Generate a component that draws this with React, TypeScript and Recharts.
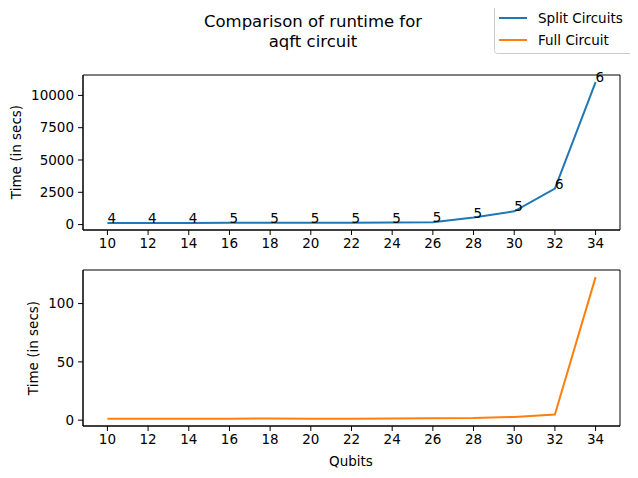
import { LineChart, Line, XAxis, YAxis, LabelList, ReferenceArea } from "recharts";

const qubits = [10, 12, 14, 16, 18, 20, 22, 24, 26, 28, 30, 32, 34];
const splitTimes = [130, 130, 130, 135, 135, 140, 150, 160, 180, 540, 1030, 2790, 11030];
const fullTimes = [1.2, 1.2, 1.3, 1.3, 1.4, 1.3, 1.3, 1.4, 1.6, 1.8, 2.8, 4.9, 122.7];
const cutLabels = [4, 4, 4, 5, 5, 5, 5, 5, 5, 5, 5, 6, 6];

const xTicks = [10, 12, 14, 16, 18, 20, 22, 24, 26, 28, 30, 32, 34];
const topYTicks = [0, 2500, 5000, 7500, 10000];
const bottomYTicks = [0, 50, 100];

const seriesNames = ["Split Circuits", "Full Circuit"];
const seriesColors = ["#1f77b4", "#ff7f0e"];

const rows = qubits.map((q, i) => ({
  q,
  split: splitTimes[i],
  full: fullTimes[i],
  cut: cutLabels[i],
}));

const FONT = "DejaVu Sans, sans-serif";
const tick = { fill: "#000", fontSize: 13.5, fontFamily: FONT };
const xDomain: [number, number] = [8.8, 35.2];
const topDomain: [number, number] = [-420, 11580];
const bottomDomain: [number, number] = [-5, 128.8];

// annotate(): text starts at the point, baseline on the point
const CutLabel = (props: any) => (
  <text
    x={props.x}
    y={props.y}
    textAnchor="start"
    fill="#000"
    fontSize={13.5}
    fontFamily={FONT}
  >
    {props.value}
  </text>
);

export default function App() {
  return (
    <div style={{ position: "relative", width: 638, height: 478, fontFamily: FONT, background: "#fff", margin: -8 }}>
      <div style={{ position: "absolute", left: 0, top: 0 }}>
        <LineChart width={638} height={260} data={rows} margin={{ top: 75, right: 18, left: 23, bottom: 5 }}>
          <XAxis dataKey="q" type="number" domain={xDomain} ticks={xTicks} height={25} tick={tick} tickSize={5} tickMargin={3} tickLine={{ stroke: "#000" }} axisLine={{ stroke: "#000" }} interval={0} allowDataOverflow />
          <YAxis type="number" domain={topDomain} ticks={topYTicks} width={60} tick={tick} tickSize={5} tickMargin={4} tickLine={{ stroke: "#000" }} axisLine={{ stroke: "#000" }} interval={0} allowDataOverflow />
          <ReferenceArea x1={xDomain[0]} x2={xDomain[1]} y1={topDomain[0]} y2={topDomain[1]} fill="none" fillOpacity={0} stroke="#000" strokeOpacity={1} ifOverflow="visible" />
          <Line dataKey="split" stroke={seriesColors[0]} strokeWidth={2} dot={false} isAnimationActive={false}>
            <LabelList dataKey="cut" content={CutLabel} />
          </Line>
        </LineChart>
      </div>
      <div style={{ position: "absolute", left: 0, top: 0 }}>
        <LineChart width={638} height={478} data={rows} margin={{ top: 270, right: 18, left: 23, bottom: 22 }}>
          <XAxis dataKey="q" type="number" domain={xDomain} ticks={xTicks} height={30} tick={tick} tickSize={5} tickMargin={3} tickLine={{ stroke: "#000" }} axisLine={{ stroke: "#000" }} interval={0} allowDataOverflow />
          <YAxis type="number" domain={bottomDomain} ticks={bottomYTicks} width={60} tick={tick} tickSize={5} tickMargin={4} tickLine={{ stroke: "#000" }} axisLine={{ stroke: "#000" }} interval={0} allowDataOverflow />
          <ReferenceArea x1={xDomain[0]} x2={xDomain[1]} y1={bottomDomain[0]} y2={bottomDomain[1]} fill="none" fillOpacity={0} stroke="#000" strokeOpacity={1} ifOverflow="visible" />
          <Line dataKey="full" stroke={seriesColors[1]} strokeWidth={2} dot={false} isAnimationActive={false} />
        </LineChart>
      </div>

      <svg width={638} height={478} style={{ position: "absolute", left: 0, top: 0, pointerEvents: "none" }}>
        <text x={313} y={27} textAnchor="middle" fontSize={16.5} fontFamily={FONT}>Comparison of runtime for</text>
        <text x={313} y={47} textAnchor="middle" fontSize={16.5} fontFamily={FONT}>aqft circuit</text>
        <text x={21} y={152} textAnchor="middle" fontSize={13.5} fontFamily={FONT} transform="rotate(-90 21 152)">Time (in secs)</text>
        <text x={38} y={348} textAnchor="middle" fontSize={13.5} fontFamily={FONT} transform="rotate(-90 38 348)">Time (in secs)</text>
        <text x={351} y={466} textAnchor="middle" fontSize={13.5} fontFamily={FONT}>Qubits</text>
        <rect x={494.5} y={3.5} width={141} height={50} rx={3} fill="#fff" fillOpacity={0.8} stroke="#ccc" />
        {seriesNames.map((name, i) => (
          <g key={name}>
            <line x1={499} x2={527} y1={18 + i * 22} y2={18 + i * 22} stroke={seriesColors[i]} strokeWidth={2} />
            <text x={538} y={23 + i * 22} fontSize={13.5} fontFamily={FONT}>{name}</text>
          </g>
        ))}
      </svg>
    </div>
  );
}
